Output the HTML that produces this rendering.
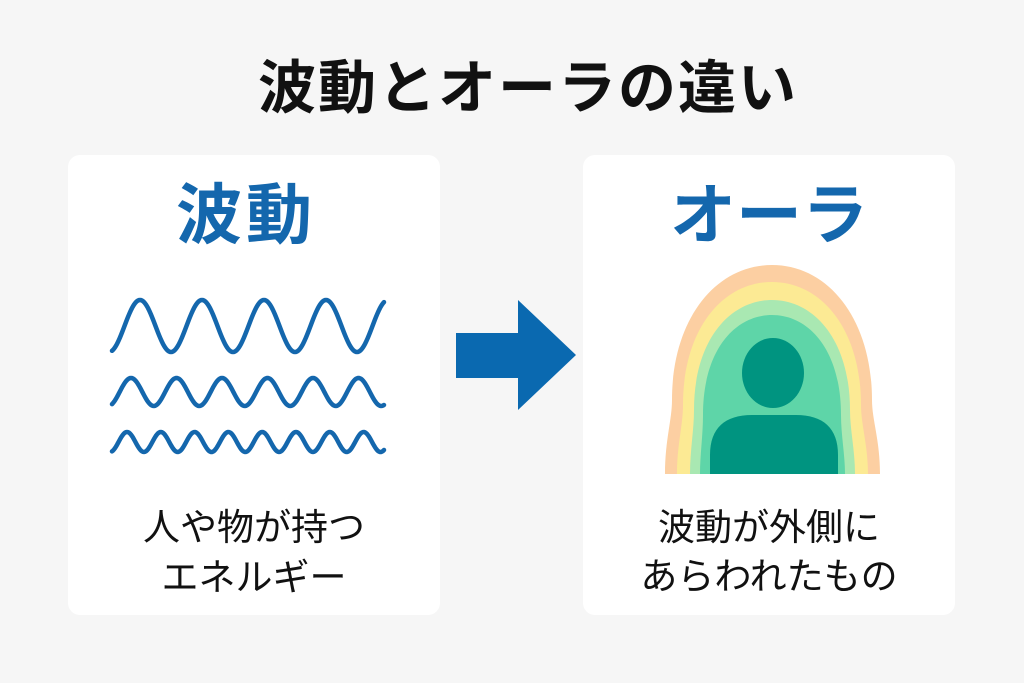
<!DOCTYPE html>
<html><head><meta charset="utf-8"><style>
body{margin:0;width:1024px;height:683px;background:#f6f6f6;font-family:"Liberation Sans","Noto Sans CJK JP",sans-serif;overflow:hidden;position:relative}
.card{position:absolute;top:155px;width:372px;height:460px;background:#fff;border-radius:12px}
.t{position:absolute;width:100%;text-align:center;white-space:nowrap}
</style></head><body>
<div class="t" style="left:16px;top:54px;font-size:58px;line-height:70px;letter-spacing:2px;font-weight:bold;color:#111">波動とオーラの違い</div>
<div class="card" style="left:68px"></div>
<div class="card" style="left:583px"></div>
<div class="t" style="left:60px;width:372px;top:175px;font-size:66px;line-height:80px;letter-spacing:4px;font-weight:bold;color:#1467ad">波動</div>
<div class="t" style="left:583px;width:372px;top:175px;font-size:66px;line-height:80px;font-weight:bold;color:#1467ad">オーラ</div>
<div class="t" style="left:68px;width:372px;top:503px;font-size:37px;line-height:50px;color:#111">人や物が持つ<br>エネルギー</div>
<div class="t" style="left:583px;width:372px;top:503px;font-size:37px;line-height:49px;color:#111">波動が外側に<br>あらわれたもの</div>
<svg width="1024" height="683" style="position:absolute;left:0;top:0">
<g fill="none" stroke="#1467ad" stroke-width="4.5" stroke-linecap="round" id="w"></g>
<path d="M456,333 H518 V300 L576,355 L518,410 V378 H456 Z" fill="#0a69b0"/>
<path d="M665,474 C665,440 672,420 672,400 C672,320 715,265 772,265 C829,265 872,320 872,400 C872,420 880,440 880,474 Z" fill="#fccfa2"/>
<path d="M677,474 C677,445 683,425 683,405 C683,330 722,282 772,282 C822,282 861,330 861,405 C861,425 868,445 868,474 Z" fill="#fcea94"/>
<path d="M690,474 C690,450 694,430 694,410 C694,340 730,300 772,300 C814,300 850,340 850,410 C850,430 855,450 855,474 Z" fill="#a9e8b2"/>
<path d="M700,474 C700,455 703,435 703,415 C703,350 735,315 772,315 C809,315 841,350 841,415 C841,435 845,455 845,474 Z" fill="#5ed5a8"/>
<ellipse cx="773" cy="373" rx="31" ry="35" fill="#009480"/>
<path d="M710,474 V455 C710,428 725,415 752,415 H796 C823,415 838,428 838,455 V474 Z" fill="#009480"/>
</svg>
<script>
function wave(x0,x1,yc,A,P,peak){let d="";for(let x=x0;x<=x1;x+=1){let y=yc-A*Math.cos(2*Math.PI*(x-peak)/P);d+=(x==x0?"M":"L")+x+","+y.toFixed(2)+" ";}return d;}
const g=document.getElementById("w");
[[112,384,326,26,62,140],[112,384,392,14,45.5,131],[112,384,442,10,33.8,127]].forEach(a=>{const p=document.createElementNS("http://www.w3.org/2000/svg","path");p.setAttribute("d",wave(...a));g.appendChild(p);});
</script>
</body></html>
